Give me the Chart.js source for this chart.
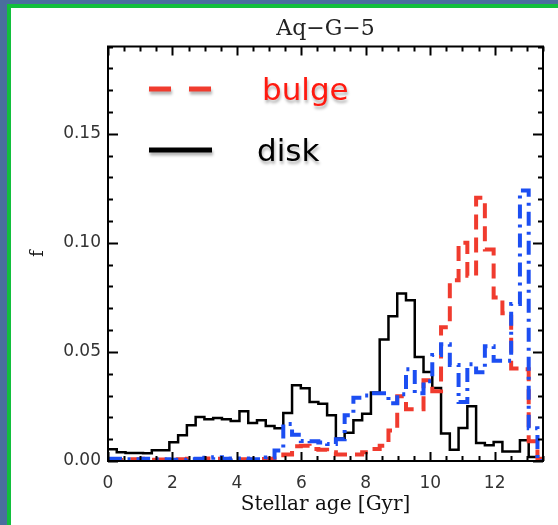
<!DOCTYPE html>
<html>
<head>
<meta charset="utf-8">
<script src="https://cdn.jsdelivr.net/npm/chart.js@4.4.0/dist/chart.umd.min.js"></script>
<style>
  html, body { margin: 0; padding: 0; }
  body { width: 558px; height: 525px; background: #4a6e9e; position: relative; overflow: hidden; }
  #panel {
    position: absolute; left: 7px; top: 4px; right: 0; bottom: 0;
    background: #fff;
    border-top: 4px solid #12bf3c;
    border-left: 4px solid #12bf3c;
  }
  #chart { position: absolute; left: 0; top: 0; }
</style>
</head>
<body>
<div id="panel"></div>
<canvas id="chart" width="558" height="525"></canvas>
<script>
// age histogram, 50 bins starting at 0 Gyr
const binWidth = 0.272;

const disk = [
  0.0054, 0.0040, 0.0037, 0.0037, 0.0035, 0.0049, 0.0049, 0.0086, 0.0118, 0.0164,
  0.0202, 0.0191, 0.0197, 0.0191, 0.0183, 0.0228, 0.0174, 0.0187, 0.0161, 0.0150,
  0.0220, 0.0347, 0.0333, 0.0271, 0.0262, 0.0210, 0.0103, 0.0130, 0.0187, 0.0217,
  0.0314, 0.0557, 0.0664, 0.0768, 0.0737, 0.0477, 0.0408, 0.0335, 0.0126, 0.0052,
  0.0151, 0.0251, 0.0083, 0.0072, 0.0087, 0.0044, 0.0044, 0.0095, 0.0018, 0.0000
];

const bulge = [
  0.0005, 0.0005, 0.0008, 0.0008, 0.0010, 0.0006, 0.0007, 0.0006, 0.0008, 0.0010,
  0.0008, 0.0012, 0.0010, 0.0006, 0.0006, 0.0008, 0.0007, 0.0009, 0.0010, 0.0012,
  0.0030, 0.0068, 0.0070, 0.0055, 0.0052, 0.0040, 0.0030, 0.0030, 0.0030, 0.0040,
  0.0055, 0.0070, 0.0140, 0.0297, 0.0237, 0.0237, 0.0370, 0.0320, 0.0613, 0.0828,
  0.1000, 0.0849, 0.1207, 0.0970, 0.0750, 0.0677, 0.0424, 0.0420, 0.0090, 0.0010
];

const other = [
  0.0010, 0.0010, 0.0008, 0.0008, 0.0010, 0.0008, 0.0008, 0.0006, 0.0006, 0.0008,
  0.0010, 0.0015, 0.0017, 0.0010, 0.0012, 0.0012, 0.0008, 0.0008, 0.0016, 0.0048,
  0.0170, 0.0120, 0.0092, 0.0090, 0.0085, 0.0078, 0.0100, 0.0210, 0.0290, 0.0300,
  0.0310, 0.0310, 0.0265, 0.0306, 0.0420, 0.0310, 0.0366, 0.0486, 0.0535, 0.0440,
  0.0270, 0.0444, 0.0407, 0.0526, 0.0460, 0.0460, 0.0720, 0.1240, 0.0150, 0.0000
];

const xTicks = [0, 2, 4, 6, 8, 10, 12];
const yTicks = [0.00, 0.05, 0.10, 0.15];
const legendLabels = ['bulge', 'disk'];

// left bin edges plus the closing edge, for stepped lines
function steps(values) {
  const pts = values.map((v, i) => ({ x: i * binWidth, y: v }));
  pts.push({ x: values.length * binWidth, y: values[values.length - 1] });
  return pts;
}

const RED = '#f03b2e';
const BLUE = '#1c4ef2';

// IDL-style box: inward ticks on all four sides
const boxTicks = {
  id: 'boxTicks',
  afterDatasetsDraw(chart) {
    const { ctx, chartArea: a, scales: { x, y } } = chart;
    ctx.save();
    ctx.strokeStyle = '#000';
    ctx.lineWidth = 2;
    ctx.beginPath();
    for (let i = 0; i * 0.5 <= x.max + 1e-9; i++) {
      const px = Math.round(x.getPixelForValue(i * 0.5)) + 0.5;
      const len = i % 4 === 0 ? 9 : 5;
      ctx.moveTo(px, a.bottom); ctx.lineTo(px, a.bottom - len);
      ctx.moveTo(px, a.top); ctx.lineTo(px, a.top + len);
    }
    for (let i = 0; i * 0.01 <= y.max + 1e-9; i++) {
      const py = Math.round(y.getPixelForValue(i * 0.01)) + 0.5;
      const len = i % 5 === 0 ? 10 : 5;
      ctx.moveTo(a.left, py); ctx.lineTo(a.left + len, py);
      ctx.moveTo(a.right, py); ctx.lineTo(a.right - len, py);
    }
    ctx.stroke();
    ctx.strokeRect(a.left, a.top, a.right - a.left, a.bottom - a.top);
    ctx.restore();
  }
};

// hand-placed legend with a soft drop shadow
const legendBox = {
  id: 'legendBox',
  afterDraw(chart) {
    const ctx = chart.ctx;
    const items = chart.data.datasets.filter(d => legendLabels.includes(d.label));
    ctx.save();
    ctx.shadowColor = 'rgba(0,0,0,0.30)';
    ctx.shadowOffsetX = 1;
    ctx.shadowOffsetY = 3;
    ctx.shadowBlur = 3;
    ctx.font = '31px "DejaVu Sans"';
    ctx.textBaseline = 'alphabetic';
    items.forEach((d, i) => {
      const ly = 89 + i * 61;
      ctx.strokeStyle = d.borderColor;
      ctx.lineWidth = 5;
      ctx.setLineDash(d.borderDash && d.borderDash.length ? [22, 18] : []);
      ctx.beginPath();
      ctx.moveTo(149, ly);
      ctx.lineTo(212, ly);
      ctx.stroke();
      ctx.fillStyle = d.label === 'bulge' ? '#ff1a10' : '#000';
      ctx.fillText(d.label, d.label === 'bulge' ? 262 : 257, ly + 11);
    });
    ctx.restore();
  }
};

const tickFont = { family: 'DejaVu Sans', size: 17 };
const serifFont = { family: 'DejaVu Serif', size: 20 };

new Chart(document.getElementById('chart'), {
  type: 'line',
  data: {
    datasets: [
      {
        label: 'other',
        data: steps(other),
        borderColor: BLUE,
        borderWidth: 4,
        borderDash: [14, 6, 3, 6],
        stepped: 'before',
        pointRadius: 0,
        order: 0
      },
      {
        label: 'bulge',
        data: steps(bulge),
        borderColor: RED,
        borderWidth: 4,
        borderDash: [15, 8],
        stepped: 'before',
        pointRadius: 0,
        order: 1
      },
      {
        label: 'disk',
        data: steps(disk),
        borderColor: '#000',
        borderWidth: 2.5,
        stepped: 'before',
        pointRadius: 0,
        order: 2
      }
    ]
  },
  options: {
    responsive: false,
    animation: false,
    layout: { padding: { left: 0, right: 15, top: 0, bottom: 0 } },
    plugins: {
      legend: { display: false },
      tooltip: { enabled: false },
      title: {
        display: true,
        text: 'Aq\u2212G\u22125',
        fullSize: false,
        color: '#222',
        font: { family: 'DejaVu Serif', size: 22, weight: 'normal' },
        padding: { top: 16, bottom: 4.1 }
      }
    },
    scales: {
      x: {
        type: 'linear',
        min: 0,
        max: 13.5,
        grid: { display: false, drawTicks: false },
        border: { display: false },
        afterBuildTicks: s => { s.ticks = xTicks.map(v => ({ value: v })); },
        ticks: { font: tickFont, color: '#333', padding: 12, maxRotation: 0 },
        title: { display: true, text: 'Stellar age [Gyr]', font: serifFont, color: '#111', padding: { top: 8, bottom: 8 } },
        afterFit: s => { s.height = 64; }
      },
      y: {
        min: 0,
        max: 0.19,
        grid: { display: false, drawTicks: false },
        border: { display: false },
        afterBuildTicks: s => { s.ticks = yTicks.map(v => ({ value: v })); },
        ticks: { font: tickFont, color: '#333', padding: 7, callback: v => v.toFixed(2) },
        title: { display: true, text: 'f', font: { family: 'DejaVu Serif', size: 18 }, color: '#111', padding: { top: 28, bottom: 0 } },
        afterFit: s => { s.width = 108; }
      }
    }
  },
  plugins: [boxTicks, legendBox]
});
</script>
</body>
</html>
